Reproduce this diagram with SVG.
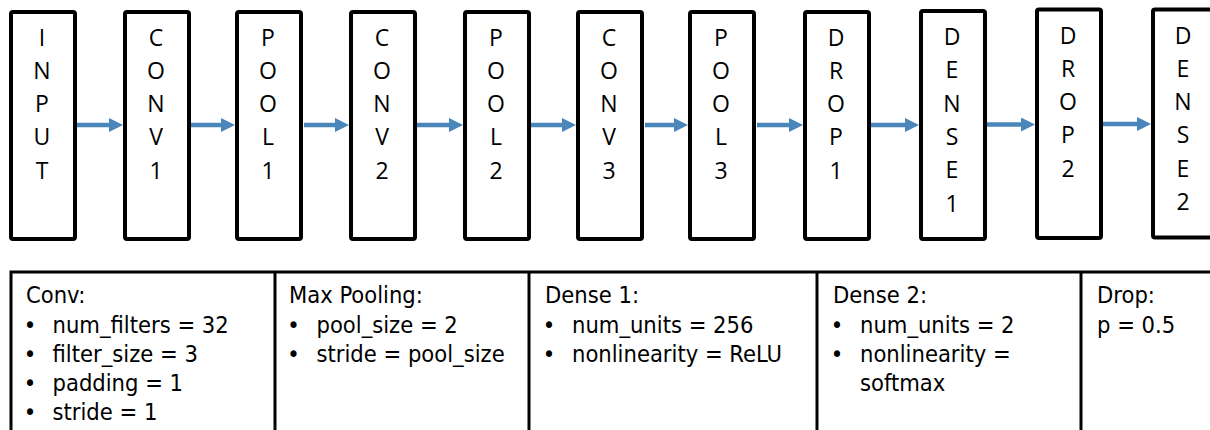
<svg xmlns="http://www.w3.org/2000/svg" width="1210" height="430" viewBox="0 0 1210 430">
  <style>
    .box { fill: #ffffff; stroke: #000000; stroke-width: 4; }
    .lbl { font-family: "Open Sans", "Liberation Sans", sans-serif; font-size: 23px; fill: #000000; text-anchor: middle; }
    .conn { stroke: #4a86ba; stroke-width: 4.5; fill: none; marker-end: url(#arr); }
    .tbl { fill: none; stroke: #000000; stroke-width: 3; }
    .t { font-family: "DejaVu Sans Condensed", "DejaVu Sans", sans-serif; font-stretch: condensed; font-size: 23.5px; fill: #000000; }
    .b { text-anchor: middle; }
  </style>
  <defs>
    <marker id="arr" markerUnits="userSpaceOnUse" markerWidth="14" markerHeight="14" refX="2" refY="7" orient="auto" viewBox="0 0 14 14">
      <path d="M0,0 L14,7 L0,14 Z" fill="#4a86ba"/>
    </marker>
  </defs>

  <g id="connectors">
    <line class="conn" x1="77" y1="125" x2="111" y2="125"/>
    <line class="conn" x1="191" y1="125" x2="223" y2="125"/>
    <line class="conn" x1="304" y1="125" x2="337" y2="125"/>
    <line class="conn" x1="416" y1="125" x2="451" y2="125"/>
    <line class="conn" x1="531" y1="125" x2="564" y2="125"/>
    <line class="conn" x1="645" y1="125" x2="676" y2="125"/>
    <line class="conn" x1="757" y1="125" x2="791" y2="125"/>
    <line class="conn" x1="871" y1="125" x2="907" y2="125"/>
    <line class="conn" x1="987" y1="124.5" x2="1023" y2="124.5"/>
    <line class="conn" x1="1103" y1="124" x2="1139" y2="124"/>
  </g>

  <g id="input">
    <rect class="box" x="11" y="12" width="64" height="227" rx="2"/>
    <text class="lbl"><tspan x="42" y="45.5">I</tspan><tspan x="42" dy="33.3">N</tspan><tspan x="42" dy="33.3">P</tspan><tspan x="42" dy="33.3">U</tspan><tspan x="42" dy="33.3">T</tspan></text>
  </g>
  <g id="conv1">
    <rect class="box" x="125" y="12" width="64" height="227" rx="2"/>
    <text class="lbl"><tspan x="156" y="45.5">C</tspan><tspan x="156" dy="33.3">O</tspan><tspan x="156" dy="33.3">N</tspan><tspan x="156" dy="33.3">V</tspan><tspan x="156" dy="33.3">1</tspan></text>
  </g>
  <g id="pool1">
    <rect class="box" x="237" y="12" width="64" height="227" rx="2"/>
    <text class="lbl"><tspan x="268" y="45.5">P</tspan><tspan x="268" dy="33.3">O</tspan><tspan x="268" dy="33.3">O</tspan><tspan x="268" dy="33.3">L</tspan><tspan x="268" dy="33.3">1</tspan></text>
  </g>
  <g id="conv2">
    <rect class="box" x="351" y="12" width="64" height="227" rx="2"/>
    <text class="lbl"><tspan x="382" y="45.5">C</tspan><tspan x="382" dy="33.3">O</tspan><tspan x="382" dy="33.3">N</tspan><tspan x="382" dy="33.3">V</tspan><tspan x="382" dy="33.3">2</tspan></text>
  </g>
  <g id="pool2">
    <rect class="box" x="465" y="12" width="64" height="227" rx="2"/>
    <text class="lbl"><tspan x="496" y="45.5">P</tspan><tspan x="496" dy="33.3">O</tspan><tspan x="496" dy="33.3">O</tspan><tspan x="496" dy="33.3">L</tspan><tspan x="496" dy="33.3">2</tspan></text>
  </g>
  <g id="conv3">
    <rect class="box" x="578" y="12" width="64" height="227" rx="2"/>
    <text class="lbl"><tspan x="609" y="45.5">C</tspan><tspan x="609" dy="33.3">O</tspan><tspan x="609" dy="33.3">N</tspan><tspan x="609" dy="33.3">V</tspan><tspan x="609" dy="33.3">3</tspan></text>
  </g>
  <g id="pool3">
    <rect class="box" x="690" y="12" width="64" height="227" rx="2"/>
    <text class="lbl"><tspan x="721" y="45.5">P</tspan><tspan x="721" dy="33.3">O</tspan><tspan x="721" dy="33.3">O</tspan><tspan x="721" dy="33.3">L</tspan><tspan x="721" dy="33.3">3</tspan></text>
  </g>
  <g id="drop1">
    <rect class="box" x="805" y="12" width="64" height="227" rx="2"/>
    <text class="lbl"><tspan x="836" y="45.5">D</tspan><tspan x="836" dy="33.3">R</tspan><tspan x="836" dy="33.3">O</tspan><tspan x="836" dy="33.3">P</tspan><tspan x="836" dy="33.3">1</tspan></text>
  </g>
  <g id="dense1">
    <rect class="box" x="921" y="11" width="64" height="228" rx="2"/>
    <text class="lbl"><tspan x="952" y="45">D</tspan><tspan x="952" dy="33.3">E</tspan><tspan x="952" dy="33.3">N</tspan><tspan x="952" dy="33.3">S</tspan><tspan x="952" dy="33.3">E</tspan><tspan x="952" dy="33.3">1</tspan></text>
  </g>
  <g id="drop2">
    <rect class="box" x="1037" y="9.5" width="64" height="228.5" rx="2"/>
    <text class="lbl"><tspan x="1068" y="43.5">D</tspan><tspan x="1068" dy="33.3">R</tspan><tspan x="1068" dy="33.3">O</tspan><tspan x="1068" dy="33.3">P</tspan><tspan x="1068" dy="33.3">2</tspan></text>
  </g>
  <g id="dense2">
    <rect class="box" x="1153" y="9.5" width="64" height="228" rx="2"/>
    <text class="lbl"><tspan x="1183" y="43.5">D</tspan><tspan x="1183" dy="33.3">E</tspan><tspan x="1183" dy="33.3">N</tspan><tspan x="1183" dy="33.3">S</tspan><tspan x="1183" dy="33.3">E</tspan><tspan x="1183" dy="33.3">2</tspan></text>
  </g>

  <g id="legend">
    <rect class="tbl" x="11" y="272" width="1220" height="200"/>
    <line class="tbl" x1="275" y1="272" x2="275" y2="432"/>
    <line class="tbl" x1="529" y1="272" x2="529" y2="432"/>
    <line class="tbl" x1="817" y1="272" x2="817" y2="432"/>
    <line class="tbl" x1="1081" y1="272" x2="1081" y2="432"/>

    <g id="legend-conv">
      <text class="t" x="26" y="303">Conv:</text>
      <text class="t b" x="30" y="332.5">•</text><text class="t" x="52.5" y="332.5">num_filters = 32</text>
      <text class="t b" x="30" y="361.5">•</text><text class="t" x="52.5" y="361.5">filter_size = 3</text>
      <text class="t b" x="30" y="390.5">•</text><text class="t" x="52.5" y="390.5">padding = 1</text>
      <text class="t b" x="30" y="419.5">•</text><text class="t" x="52.5" y="419.5">stride = 1</text>
    </g>
    <g id="legend-pool">
      <text class="t" x="289" y="303">Max Pooling:</text>
      <text class="t b" x="293.5" y="332.5">•</text><text class="t" x="316.5" y="332.5">pool_size = 2</text>
      <text class="t b" x="293.5" y="361.5">•</text><text class="t" x="316.5" y="361.5">stride = pool_size</text>
    </g>
    <g id="legend-dense1">
      <text class="t" x="545" y="303">Dense 1:</text>
      <text class="t b" x="549" y="332.5">•</text><text class="t" x="572" y="332.5">num_units = 256</text>
      <text class="t b" x="549" y="361.5">•</text><text class="t" x="572" y="361.5">nonlinearity = ReLU</text>
    </g>
    <g id="legend-dense2">
      <text class="t" x="833" y="303">Dense 2:</text>
      <text class="t b" x="837" y="332.5">•</text><text class="t" x="860" y="332.5">num_units = 2</text>
      <text class="t b" x="837" y="361.5">•</text><text class="t" x="860" y="361.5">nonlinearity =</text>
      <text class="t" x="860" y="390.5">softmax</text>
    </g>
    <g id="legend-drop">
      <text class="t" x="1097" y="303">Drop:</text>
      <text class="t" x="1097" y="332.5">p = 0.5</text>
    </g>
  </g>
</svg>
